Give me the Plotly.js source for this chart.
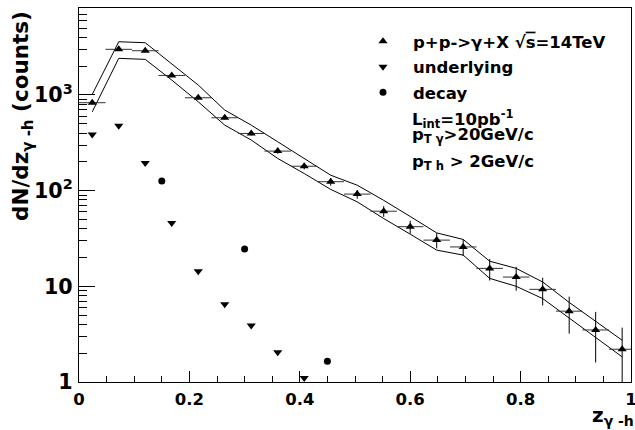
<!DOCTYPE html>
<html>
<head>
<meta charset="utf-8">
<script src="https://cdn.plot.ly/plotly-3.0.1.min.js"></script>
<style>html,body{margin:0;padding:0;background:#fff;}#chart{width:635px;height:430px;}</style>
</head>
<body>
<div id="chart"></div>
<script>
// bin centres of the z(gamma-h) histogram
const zBins = [0.024, 0.072, 0.120, 0.168, 0.216, 0.264, 0.312, 0.360, 0.408, 0.456, 0.504,
               0.552, 0.600, 0.648, 0.696, 0.744, 0.792, 0.840, 0.888, 0.936, 0.984];
// p+p -> gamma + X, sqrt(s)=14 TeV
const signal = [830, 3000, 2900, 1600, 935, 578, 396, 259, 180, 124, 92,
                61, 42, 30.4, 25.8, 15.4, 12.5, 9.3, 5.5, 3.5, 2.2];
const signalErr = [29, 55, 54, 40, 31, 24, 20, 16, 13.4, 11.1, 9.6,
                   7.8, 6.5, 5.5, 5.1, 3.9, 3.5, 3.0, 2.3, 1.9, 1.5];
const halfBin = 0.024;
// systematic band
const bandUpper = [1014, 3600, 3516, 2090, 1270, 695, 484, 324, 217, 145, 114,
                   79.2, 53.7, 36.2, 30.9, 18.3, 15.4, 11.1, 6.79, 4.30, 2.73];
const bandLower = [667, 2415, 2356, 1432, 849, 484, 338, 217, 151, 103, 76.4,
                   51.1, 35.1, 23.9, 21.2, 12.1, 10.0, 7.45, 4.66, 2.92, 1.83];
// underlying event
const underlyingZ = [0.024, 0.072, 0.120, 0.168, 0.216, 0.264, 0.312, 0.360, 0.408];
const underlying = [386, 476, 194, 46, 14.4, 6.5, 3.9, 2.05, 1.1];
// decay photons
const decayZ = [0.15, 0.30, 0.45];
const decay = [126, 24.5, 1.65];

const F = 'DejaVu Sans';
const px2x = p => (p - 79) / 552;
const py2y = p => (382 - p) / 374;

const traces = [
  {x: zBins, y: bandUpper, mode: 'lines', line: {color: 'black', width: 1}, showlegend: false, hoverinfo: 'skip'},
  {x: zBins, y: bandLower, mode: 'lines', line: {color: 'black', width: 1}, showlegend: false, hoverinfo: 'skip'},
  {x: zBins, y: signal, mode: 'markers', name: 'p+p-&gt;γ+X √<span style="text-decoration:overline">s</span>=14TeV',
   legendgroup: 'a',
   marker: {symbol: 'triangle-up', size: 8, color: 'black'},
   error_y: {type: 'data', array: signalErr, visible: true, color: 'black', thickness: 1, width: 0},
   error_x: {type: 'constant', value: halfBin, visible: true, color: '#333', thickness: 1, width: 0}},
  {x: underlyingZ, y: underlying, mode: 'markers', name: 'underlying', legendgroup: 'b',
   marker: {symbol: 'triangle-down', size: 8, color: 'black'}},
  {x: decayZ, y: decay, mode: 'markers', name: 'decay', legendgroup: 'c',
   marker: {symbol: 'circle', size: 7, color: 'black'}}
];

const tickFont = {family: F, size: 16.5, color: 'black', weight: 'bold'};
const layout = {
  width: 635, height: 430,
  margin: {l: 79, r: 4, t: 8, b: 48, pad: 0},
  paper_bgcolor: 'white', plot_bgcolor: 'white',
  showlegend: true,
  legend: {x: px2x(353), y: py2y(24), xanchor: 'left', yanchor: 'top',
           bgcolor: 'rgba(0,0,0,0)', borderwidth: 0, itemwidth: 50, tracegroupgap: 1,
           font: {family: F, size: 16.5, color: 'black', weight: 'bold'}},
  xaxis: {range: [0, 1], dtick: 0.2, tick0: 0, ticks: 'inside', ticklen: 11, tickwidth: 1, tickcolor: 'black',
          showline: true, mirror: true, linecolor: 'black', linewidth: 1, showgrid: false, zeroline: false,
          tickfont: tickFont, ticklabeloverflow: 'allow', ticklabelstandoff: 2,
          minor: {ticks: 'inside', ticklen: 6, dtick: 0.05, tickcolor: 'black', tickwidth: 1, showgrid: false}},
  yaxis: {type: 'log', range: [0, 3.909], dtick: 1, exponentformat: 'power', ticks: 'inside', ticklen: 16, tickwidth: 1,
          tickcolor: 'black', showline: true, mirror: true, linecolor: 'black', linewidth: 1, showgrid: false, zeroline: false,
          tickfont: tickFont, ticklabelstandoff: 2, ticklabeloverflow: 'allow',
          minor: {ticks: 'inside', ticklen: 8, dtick: 'D1', tickcolor: 'black', tickwidth: 1, showgrid: false}},
  annotations: [
    {xref: 'paper', yref: 'paper', x: px2x(22), y: py2y(9), xanchor: 'center', yanchor: 'top', textangle: -90,
     showarrow: false, text: 'dN/dz<sub>γ -h</sub> (counts)', font: {family: F, size: 21.5, color: 'black', weight: 'bold'}},
    {xref: 'paper', yref: 'paper', x: px2x(636), y: py2y(431), xanchor: 'right', yanchor: 'bottom',
     showarrow: false, text: 'z<sub>γ -h</sub>', font: {family: F, size: 20, color: 'black', weight: 'bold'}},
    {xref: 'paper', yref: 'paper', x: px2x(410), y: py2y(119), xanchor: 'left', yanchor: 'middle',
     showarrow: false, text: 'L<sub>int</sub>=10pb<sup>-1</sup>', font: {family: F, size: 16.5, color: 'black', weight: 'bold'}},
    {xref: 'paper', yref: 'paper', x: px2x(410), y: py2y(135), xanchor: 'left', yanchor: 'middle',
     showarrow: false, text: 'p<sub>T γ</sub>&gt;20GeV/c', font: {family: F, size: 16.5, color: 'black', weight: 'bold'}},
    {xref: 'paper', yref: 'paper', x: px2x(410), y: py2y(162), xanchor: 'left', yanchor: 'middle',
     showarrow: false, text: 'p<sub>T h</sub> &gt; 2GeV/c', font: {family: F, size: 16.5, color: 'black', weight: 'bold'}}
  ]
};

Plotly.newPlot('chart', traces, layout, {staticPlot: true, displayModeBar: false});
</script>
</body>
</html>
